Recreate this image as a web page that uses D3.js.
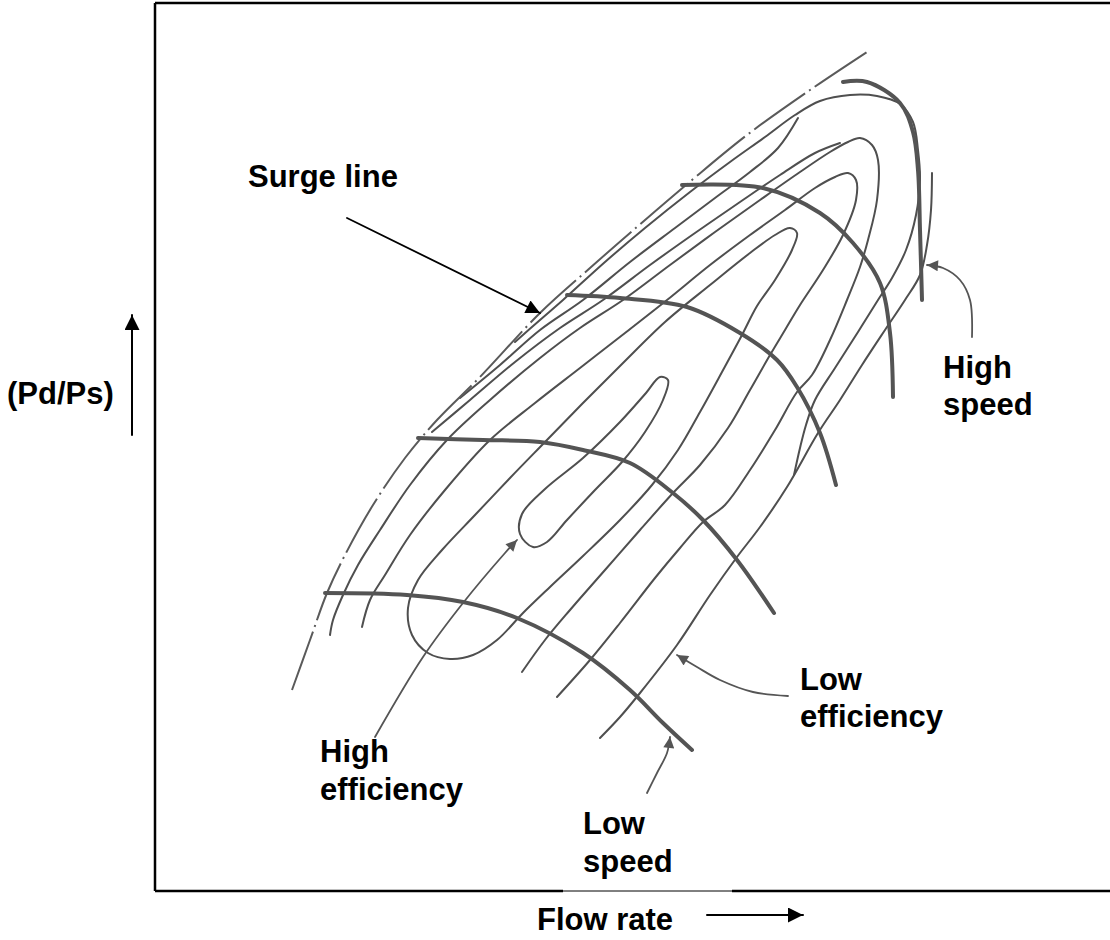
<!DOCTYPE html>
<html><head><meta charset="utf-8">
<script src="https://cdn.jsdelivr.net/npm/d3@7"></script>
<style>
html,body{margin:0;padding:0;background:#fff;}
svg text{font-family:"Liberation Sans",Arial,Helvetica,sans-serif;font-weight:bold;font-size:31px;fill:#000;}
</style></head><body>
<svg id="chart" width="1110" height="940"></svg>
<script>
// ---------- data (flow rate units, pressure-ratio units) ----------
const surgeLine = [[13.7,20.1],[15.5,25.1],[17.2,29.8],[19.0,33.6],[21.8,38.6],[25.0,43.3],[28.2,47.1],[32.5,51.4],[38.5,57.8],[43.5,62.3],[47.5,65.8],[53.7,71.1],[59.2,75.6],[65.5,80.1],[71.2,83.9]];

const speedHigh = [[68.8,80.9],[71.2,80.9],[74.5,78.8],[75.8,75.9],[76.3,72.1],[76.5,66.1],[76.7,59.1]];
const speed4 = [[52.7,70.6],[60.8,70.3],[66.5,67.8],[69.8,64.8],[72.5,60.8],[73.5,55.8],[73.8,49.4]];
const speed3 = [[41.2,59.6],[46.5,59.3],[53.2,58.4],[58.5,55.8],[62.2,53.1],[64.2,50.4],[66.5,45.8],[68.1,40.6]];
const speed2 = [[26.3,45.3],[32.8,45.1],[38.5,44.9],[42.8,44.1],[47.5,42.8],[51.8,39.8],[54.8,37.1],[58.2,33.1],[61.9,27.8]];
const speedLow = [[17.0,29.8],[25.2,29.6],[30.8,28.9],[36.2,27.3],[42.8,23.8],[47.5,20.1],[50.8,16.8],[53.7,14.1]];

// efficiency islands (closed)
const effIsland1 = [[37.8,34.4],[36.5,35.7],[36.7,37.7],[39.0,40.2],[42.8,43.3],[46.5,46.9],[49.1,49.8],[50.5,51.4],[51.3,51.1],[50.8,49.1],[49.0,45.9],[46.7,42.9],[44.0,40.1],[41.2,37.1],[39.2,34.9]];
const effIsland2 = [[29.5,23.2],[27.3,23.8],[25.7,25.6],[25.3,28.3],[26.3,31.1],[28.7,34.1],[32.0,37.6],[35.5,41.3],[39.0,44.9],[42.7,48.7],[46.7,52.7],[51.0,56.9],[55.5,60.6],[59.5,63.8],[62.0,65.6],[63.5,66.3],[64.2,65.8],[63.7,64.1],[62.0,61.1],[60.2,58.5],[58.7,55.6],[56.7,51.9],[54.5,47.9],[52.3,44.1],[49.7,40.6],[46.5,37.1],[42.8,33.5],[39.5,30.4],[36.8,27.8],[34.2,25.1],[31.8,23.6]];
// open efficiency contours
const effContour3 = [[20.7,26.4],[21.5,29.1],[23.0,31.6],[25.5,35.6],[29.0,40.1],[33.5,45.1],[38.0,48.8],[42.5,52.3],[47.0,55.8],[51.2,59.1],[55.5,62.6],[59.5,65.6],[63.0,68.1],[66.0,70.3],[68.0,71.4],[69.3,71.8],[70.1,71.1],[70.1,69.1],[68.8,65.6],[66.8,62.1],[64.5,58.6],[63.0,56.1],[61.5,53.6],[59.5,50.1],[57.3,46.3],[54.5,42.6],[51.8,39.8],[48.5,36.1],[45.0,32.1],[41.5,28.1],[39.0,25.1],[36.7,21.9]];
const effContour4 = [[17.5,25.6],[17.8,27.1],[18.8,29.6],[20.3,32.6],[22.5,36.1],[25.5,40.6],[29.2,45.1],[33.5,49.1],[38.5,53.3],[42.5,56.3],[46.8,59.1],[51.5,62.6],[56.0,65.9],[60.5,69.1],[64.5,71.9],[67.5,73.9],[69.3,74.9],[70.5,75.3],[71.7,74.6],[72.3,73.1],[72.2,69.1],[71.3,65.1],[70.5,62.4],[69.2,59.1],[67.5,55.1],[65.7,51.6],[64.2,49.9],[62.0,46.1],[59.5,42.1],[57.0,38.6],[54.8,36.9],[52.5,34.3],[50.0,31.3],[46.5,26.8],[43.5,23.1],[40.2,19.4]];
const effContour5 = [[27.7,45.9],[31.5,49.1],[36.0,52.9],[40.5,56.3],[44.8,59.1],[49.5,62.6],[54.0,65.8],[58.5,68.9],[62.5,71.6],[66.0,73.8],[68.5,74.8]];
const effContour6 = [[30.5,49.3],[34.5,52.6],[38.5,56.1],[42.8,59.1],[47.5,62.9],[52.0,66.3],[56.0,69.3],[59.5,71.9],[62.3,74.3],[64.3,77.3]];
const effContour7 = [[36.0,54.9],[38.5,57.1],[40.8,59.1],[45.0,62.9],[49.0,66.3],[53.5,69.9],[57.5,72.9],[61.0,75.4],[64.0,77.6],[66.5,79.0],[69.5,79.6],[72.2,79.5],[74.5,78.7],[75.8,76.9],[76.3,74.1],[76.5,71.1],[76.1,67.6],[75.1,64.1],[73.7,61.3],[72.3,59.1],[70.3,55.9],[68.0,52.3],[66.0,49.1],[65.1,46.6],[64.5,44.3],[63.9,41.6]];
const effOuterRight = [[77.7,71.8],[77.6,68.1],[77.2,64.6],[76.5,61.6],[75.0,59.1],[73.0,56.1],[70.7,52.6],[68.5,49.1],[66.3,45.8],[63.2,40.4],[60.5,36.4],[58.2,33.4],[55.5,29.6],[52.2,24.6],[48.5,19.8],[46.5,17.4],[44.5,15.3]];

// pointer arrows (curves ending at their target)
const ptrHighEff = [[22.0,15.4],[26.8,23.4],[30.8,28.8],[35.0,33.8],[36.2,35.1]];
const ptrLowSpeed = [[49.2,9.8],[50.2,11.8],[51.2,13.8],[51.5,15.4]];
const ptrLowEff = [[63.3,19.5],[59.8,19.9],[56.5,21.1],[54.2,22.4],[52.2,23.6]];
const ptrHighSpeed = [[81.7,55.4],[81.5,59.1],[80.5,61.1],[78.8,62.3],[77.2,62.6]];
const ptrSurge = [[19.2,67.3],[38.5,57.8]];
const axisArrowY = [[-2.3,45.6],[-2.3,57.6]];
const axisArrowX = [[55.2,-2.4],[64.8,-2.4]];

// labels
const labelTexts = ["Surge line","(Pd/Ps)","High","speed","Low","efficiency","High","efficiency","Low","speed","Flow rate"];
const labelPos = [[9.3,70.4],[-14.8,48.7],[78.8,51.3],[78.8,47.6],[64.5,20.1],[64.5,16.4],[16.5,12.9],[16.5,9.1],[42.8,5.7],[42.8,1.9],[38.2,-3.9]];

// ---------- drawing ----------
const svg = d3.select("#chart");
const x = d3.scaleLinear().domain([0, 95.5]).range([155, 1110]);
const y = d3.scaleLinear().domain([0, 88.8]).range([891, 3]);

const defs = svg.append("defs");
function marker(id, color, w, h){
  defs.append("marker").attr("id", id).attr("viewBox","0 0 10 10")
    .attr("refX",10).attr("refY",5).attr("markerUnits","userSpaceOnUse")
    .attr("markerWidth",w).attr("markerHeight",h).attr("orient","auto")
    .append("path").attr("d","M0,0 L10,5 L0,10 Z").attr("fill",color);
}
marker("ahBlack","#000",17,14);
marker("ahAxis","#000",16,15);
marker("ahGray","#555",15,11);

const lineOpen = d3.line().x(d=>x(d[0])).y(d=>y(d[1])).curve(d3.curveCatmullRom.alpha(0.5));
const lineClosed = d3.line().x(d=>x(d[0])).y(d=>y(d[1])).curve(d3.curveCatmullRomClosed.alpha(0.5));
const lineStraight = d3.line().x(d=>x(d[0])).y(d=>y(d[1]));

// frame
svg.append("line").attr("x1",x(0)).attr("x2",x(0)).attr("y1",y(88.8)).attr("y2",y(0)).attr("stroke","#000").attr("stroke-width",2.5);
svg.append("line").attr("x1",x(0)).attr("x2",1110).attr("y1",y(88.8)).attr("y2",y(88.8)).attr("stroke","#000").attr("stroke-width",2.5);
svg.append("line").attr("x1",x(0)).attr("x2",x(40.8)).attr("y1",y(0)).attr("y2",y(0)).attr("stroke","#000").attr("stroke-width",2.5);
svg.append("line").attr("x1",x(40.8)).attr("x2",x(57.7)).attr("y1",y(0)).attr("y2",y(0)).attr("stroke","#000").attr("stroke-width",1);
svg.append("line").attr("x1",x(57.7)).attr("x2",1110).attr("y1",y(0)).attr("y2",y(0)).attr("stroke","#000").attr("stroke-width",2.5);

const thinColor = "#4f4f4f";
const g = svg.append("g").attr("fill","none").attr("stroke-linecap","round");
[effContour3, effContour4, effContour5, effContour6, effContour7, effOuterRight].forEach(c=>{
  g.append("path").attr("d", lineOpen(c)).attr("stroke", thinColor).attr("stroke-width", 2);
});
[effIsland1, effIsland2].forEach(c=>{
  g.append("path").attr("d", lineClosed(c)).attr("stroke", thinColor).attr("stroke-width", 2);
});
// surge line (dash-dot)
g.append("path").attr("d", lineOpen(surgeLine)).attr("stroke","#5a5a5a").attr("stroke-width",2)
  .attr("stroke-dasharray","62,5,2,5").attr("stroke-linecap","butt");
// speed lines
[speedHigh, speed4, speed3, speed2, speedLow].forEach(c=>{
  g.append("path").attr("d", lineOpen(c)).attr("stroke","#545454").attr("stroke-width",4);
});
// gray pointer arrows
[ptrHighEff, ptrLowSpeed, ptrLowEff, ptrHighSpeed].forEach(c=>{
  g.append("path").attr("d", lineOpen(c)).attr("stroke","#555").attr("stroke-width",1.8).attr("marker-end","url(#ahGray)");
});
// surge pointer
g.append("path").attr("d", lineStraight(ptrSurge)).attr("stroke","#000").attr("stroke-width",1.8).attr("marker-end","url(#ahBlack)");
// axis arrows
g.append("path").attr("d", lineStraight(axisArrowY)).attr("stroke","#000").attr("stroke-width",2).attr("marker-end","url(#ahAxis)");
g.append("path").attr("d", lineStraight(axisArrowX)).attr("stroke","#000").attr("stroke-width",2).attr("marker-end","url(#ahAxis)");

// labels
svg.append("g").selectAll("text").data(labelTexts).join("text")
  .attr("x",(d,i)=>x(labelPos[i][0])).attr("y",(d,i)=>y(labelPos[i][1])).text(d=>d);
</script>
</body></html>
